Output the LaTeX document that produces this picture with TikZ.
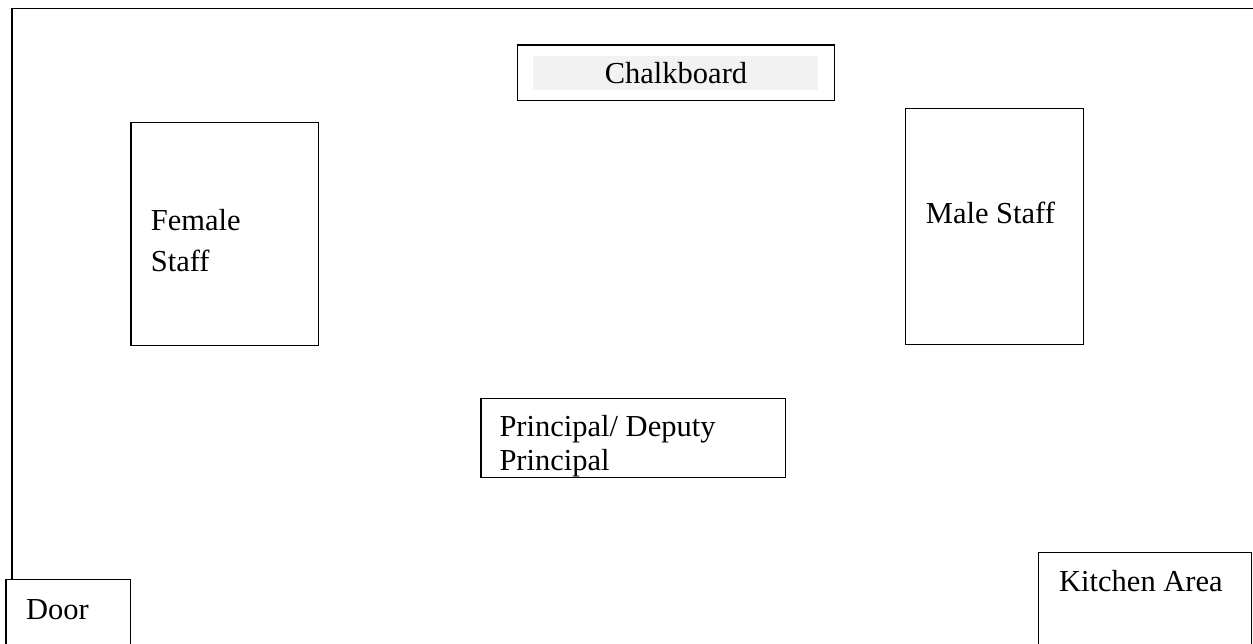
\documentclass[tikz,border=0pt]{standalone}
\usepackage{fontspec}
\setmainfont{Liberation Serif}
\definecolor{boardgray}{HTML}{F2F2F2}
\begin{document}
\begin{tikzpicture}[x=1pt,y=-1pt,
  wall/.style={line width=1.5pt,line cap=rect},
  box/.style={draw,line width=1.5pt},
  lbl/.style={anchor=base west,inner sep=0pt,font=\fontsize{30.5}{36.5}\selectfont}]
\useasboundingbox (0,0) rectangle (1253,643);
% outer room frame (open at right and bottom)
\coordinate (fl) at (12,579.3);
\coordinate (ftl) at (12,8.3);
\coordinate (ftr) at (1254,8.3);
\draw[wall] (fl) -- (ftl) -- (ftr);
% chalkboard
\draw[box] (517.7,45) rectangle (834.3,100.3);
\fill[boardgray] (532.7,55.7) rectangle (817.7,90.3);
\node[anchor=base,inner sep=0pt,font=\fontsize{30.5}{36.5}\selectfont] (chalk) at (676,83) {Chalkboard};
% female staff
\draw[box] (131,122.3) rectangle (318.7,345.7);
\node[lbl] (female1) at (150.7,230) {Female};
\node[lbl] (female2) at (150.7,271.5) {Staff};
% male staff
\draw[box] (905.7,108.3) rectangle (1083.3,344.3);
\node[lbl] (male) at (925.7,223.5) {Male Staff};
% principal
\draw[box] (481,398.3) rectangle (785.3,477.7);
\begin{scope}
\clip (482,399) rectangle (784.5,477);
\node[lbl] (princ1) at (499.3,436.7) {Principal/ Deputy};
\node[lbl] (princ2) at (499.3,470.5) {Principal};
\end{scope}
% door
\draw[box] (6,650) -- (6,579.3) -- (130.7,579.3) -- (130.7,650);
\node[lbl] (door) at (26,619) {Door};
% kitchen
\draw[box] (1038.3,650) -- (1038.3,552.7) -- (1251.7,552.7) -- (1251.7,650);
\node[lbl] (kitchen) at (1059,591) {Kitchen Area};
\end{tikzpicture}
\end{document}
